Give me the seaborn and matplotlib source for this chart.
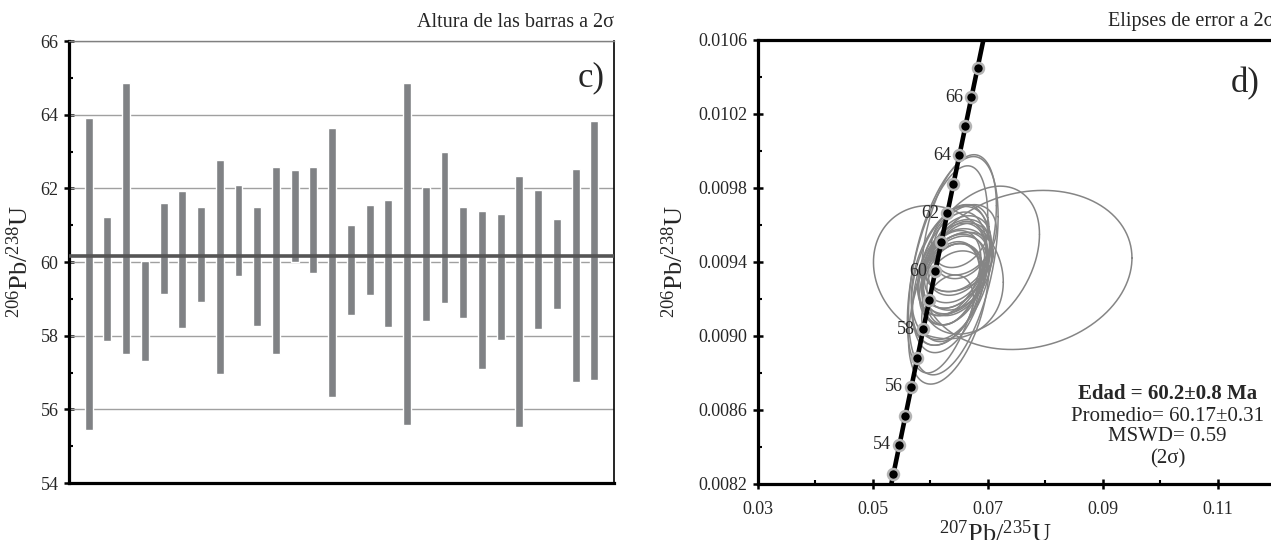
import numpy as np
import matplotlib
matplotlib.use("Agg")
import matplotlib.pyplot as plt
import seaborn as sns
from matplotlib.ticker import MultipleLocator, FormatStrFormatter

# ---- c) 206Pb/238U edades por grano, extremos de la barra (2 sigma, Ma)
bar_top = [63.92, 61.22, 64.86, 60.04, 61.61, 61.94, 61.49, 62.76, 62.10, 61.48,
           62.58, 62.51, 62.57, 63.63, 61.00, 61.55, 61.67, 64.87, 62.04, 63.00,
           61.49, 61.38, 61.29, 62.33, 61.95, 61.17, 62.53, 63.82]
bar_bottom = [55.45, 57.86, 57.49, 57.30, 59.14, 58.21, 58.92, 56.95, 59.62, 58.27,
              57.51, 59.99, 59.70, 56.33, 58.55, 59.11, 58.23, 55.58, 58.39, 58.90,
              58.48, 57.10, 57.87, 55.53, 58.18, 58.72, 56.74, 56.79]
mean_age = 60.17

# ---- d) curva concordia (puntos cada 1 Ma, 53-67 Ma)
conc_age = [53, 54, 55, 56, 57, 58, 59, 60, 61, 62, 63, 64, 65, 66, 67]
conc_x = [0.053583, 0.054622, 0.055661, 0.056701, 0.057742, 0.058784, 0.059828,
          0.060872, 0.061917, 0.062963, 0.064011, 0.065059, 0.066109, 0.067159, 0.068211]
conc_y = [0.0082554, 0.0084118, 0.0085683, 0.0087247, 0.0088812, 0.0090377, 0.0091943,
          0.0093508, 0.0095074, 0.0096640, 0.0098206, 0.0099773, 0.0101340, 0.0102907, 0.0104476]
curve_x = [0.053210] + conc_x + [0.069233]
curve_y = [0.0082000] + conc_y + [0.0106000]
label_ages = [54, 56, 58, 60, 62, 64, 66]

# elipses de error: centro, semiejes (2 sigma) y correlacion
ell_cx = [0.0640, 0.0636, 0.0650, 0.0630, 0.0645, 0.0638, 0.0648, 0.0635, 0.0655, 0.0642,
          0.0637, 0.0652, 0.0660, 0.0614, 0.0644, 0.0650, 0.0633, 0.0630, 0.0645, 0.0685,
          0.0640, 0.0628, 0.0636, 0.0632, 0.0648, 0.0640, 0.0634, 0.0769]
ell_cy = [0.009380, 0.009280, 0.009520, 0.009150, 0.009410, 0.009360, 0.009390, 0.009330,
          0.009480, 0.009330, 0.009340, 0.009540, 0.009520, 0.009345, 0.009300, 0.009400,
          0.009340, 0.009360, 0.009390, 0.009410, 0.009350, 0.009230, 0.009280, 0.009180,
          0.009360, 0.009340, 0.009290, 0.009357]
ell_hx = [0.0078, 0.0050, 0.0065, 0.0045, 0.0055, 0.0060, 0.0052, 0.0068, 0.0050, 0.0058,
          0.0070, 0.0050, 0.0055, 0.0113, 0.0050, 0.0060, 0.0055, 0.0070, 0.0060, 0.0105,
          0.0055, 0.0060, 0.0055, 0.0070, 0.0060, 0.0050, 0.0065, 0.0182]
ell_hy = [0.00059, 0.00022, 0.00046, 0.00018, 0.00017, 0.00025, 0.00017, 0.00038, 0.00017,
          0.00021, 0.00036, 0.00017, 0.00019, 0.00036, 0.00016, 0.00016, 0.00023, 0.00056,
          0.00024, 0.00040, 0.00020, 0.00028, 0.00022, 0.00044, 0.00025, 0.00016, 0.00038,
          0.00043]
ell_rho = [0.45, 0.30, 0.40, 0.30, 0.25, 0.35, 0.30, 0.40, 0.25, 0.30, 0.35, 0.30, 0.30,
           -0.15, 0.25, 0.30, 0.35, 0.50, 0.35, 0.35, 0.30, 0.35, 0.30, 0.45, 0.35, 0.25,
           0.40, 0.15]

# ==========================================
sns.set_theme(style="white")
plt.rcParams['font.family'] = ['Liberation Serif', 'DejaVu Serif']
plt.rcParams['mathtext.fontset'] = 'custom'
plt.rcParams['mathtext.rm'] = 'Liberation Serif'
plt.rcParams['mathtext.it'] = 'Liberation Serif:italic'
plt.rcParams['mathtext.bf'] = 'Liberation Serif:bold'

fig = plt.figure(figsize=(12.71, 5.40), dpi=100)
ax1 = fig.add_axes([69 / 1271, 1 - 483 / 540, 545 / 1271, 442 / 540])
ax2 = fig.add_axes([758 / 1271, 1 - 484 / 540, 517 / 1271, 444 / 540])

TICK_FS = 13

# ---- panel c)
pos = np.arange(1, len(bar_top) + 1)
heights = np.array(bar_top) - np.array(bar_bottom)
ax1.set_ylim(54, 66)
ax1.set_xlim(-0.05, 29.05)
for g in [56, 58, 60, 62, 64, 66]:
    ax1.axhline(g, color='#a0a0a0', lw=1.0, zorder=1)
ax1.bar(pos, heights, bottom=bar_bottom, width=0.42, color='#808285', zorder=2)
ax1.axhline(mean_age, color='#555555', lw=2.6, zorder=3)

ax1.yaxis.set_major_locator(MultipleLocator(2))
ax1.yaxis.set_minor_locator(MultipleLocator(1))
ax1.yaxis.set_major_formatter(FormatStrFormatter('%d'))
ax1.set_xticks([])
ax1.tick_params(axis='y', which='major', direction='inout', length=7, width=1.8,
                color='black', labelsize=TICK_FS, pad=4, left=True)
ax1.tick_params(axis='y', which='minor', direction='in', length=3, width=1.5,
                color='black', left=True)
for side in ['left', 'bottom']:
    ax1.spines[side].set_linewidth(2.3)
    ax1.spines[side].set_color('black')
ax1.spines['right'].set_linewidth(1.2)
ax1.spines['right'].set_color('black')
ax1.spines['top'].set_linewidth(1.0)
ax1.spines['top'].set_color('#808080')

ax1.set_ylabel(r'$^{206}$Pb/$^{238}$U', fontsize=19)
ax1.yaxis.set_label_coords(-0.066, 0.5)
ax1.text(1.0, 1.02, 'Altura de las barras a 2σ', transform=ax1.transAxes,
         ha='right', va='bottom', fontsize=14.5)
ax1.text(0.982, 0.955, 'c)', transform=ax1.transAxes, ha='right', va='top', fontsize=25)

# ---- panel d)
ax2.set_xlim(0.03, 0.12)
ax2.set_ylim(0.0082, 0.0106)

theta = np.linspace(0, 2 * np.pi, 240)
for cx, cy, hx, hy, r in zip(ell_cx, ell_cy, ell_hx, ell_hy, ell_rho):
    ex = cx + hx * np.cos(theta)
    ey = cy + hy * (r * np.cos(theta) + np.sqrt(1 - r * r) * np.sin(theta))
    ax2.plot(ex, ey, color='#858585', lw=1.1, zorder=2)

sns.lineplot(x=curve_x, y=curve_y, sort=False, estimator=None, color='black',
             lw=3.3, ax=ax2, zorder=3)
sns.scatterplot(x=conc_x, y=conc_y, s=62, color='black', edgecolor='#b4b4b4',
                linewidth=1.8, ax=ax2, zorder=4, clip_on=False)
for a in label_ages:
    i = conc_age.index(a)
    ax2.annotate(str(a), (conc_x[i], conc_y[i]), xytext=(-6, 0), textcoords='offset points',
                 ha='right', va='center', fontsize=TICK_FS, zorder=5)

ax2.xaxis.set_major_locator(MultipleLocator(0.02, offset=0.01))
ax2.xaxis.set_minor_locator(MultipleLocator(0.01))
ax2.xaxis.set_major_formatter(FormatStrFormatter('%.2f'))
ax2.yaxis.set_major_locator(MultipleLocator(0.0004, offset=0.0002))
ax2.yaxis.set_minor_locator(MultipleLocator(0.0002))
ax2.yaxis.set_major_formatter(FormatStrFormatter('%.4f'))
ax2.tick_params(which='major', direction='inout', length=7, width=1.8, color='black',
                labelsize=TICK_FS, bottom=True, left=True)
ax2.tick_params(axis='x', which='major', pad=9)
ax2.tick_params(axis='y', which='major', pad=4)
ax2.tick_params(which='minor', direction='in', length=3, width=1.5, color='black',
                bottom=True, left=True)
for side in ['left', 'bottom', 'top', 'right']:
    ax2.spines[side].set_linewidth(2.3)
    ax2.spines[side].set_color('black')

ax2.set_ylabel(r'$^{206}$Pb/$^{238}$U', fontsize=19)
ax2.yaxis.set_label_coords(-0.135, 0.5)
ax2.text(0.46, -0.083, r'$^{207}$Pb/$^{235}$U', transform=ax2.transAxes,
         ha='center', va='top', fontsize=19)
ax2.text(1.0, 1.02, 'Elipses de error a 2σ', transform=ax2.transAxes,
         ha='right', va='bottom', fontsize=14.5)
ax2.text(0.97, 0.94, 'd)', transform=ax2.transAxes, ha='right', va='top', fontsize=25)

ax2.text(0.792, 0.203, 'Edad = 60.2±0.8 Ma', transform=ax2.transAxes, ha='center',
         va='center', fontsize=15, fontweight='bold')
ax2.text(0.792, 0.153, 'Promedio= 60.17±0.31', transform=ax2.transAxes, ha='center',
         va='center', fontsize=15)
ax2.text(0.792, 0.106, 'MSWD= 0.59', transform=ax2.transAxes, ha='center',
         va='center', fontsize=15)
ax2.text(0.792, 0.056, '(2σ)', transform=ax2.transAxes, ha='center',
         va='center', fontsize=15)

fig.savefig('out.png', dpi=100)
